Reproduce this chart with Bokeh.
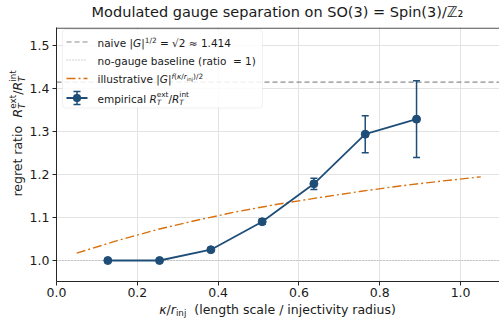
import math
from bokeh.plotting import figure
from bokeh.layouts import column, row
from bokeh.models import (ColumnDataSource, Whisker, TeeHead, Span, Label, BoxAnnotation,
                          Arrow, FixedTicker, PrintfTickFormatter, Range1d)
from bokeh.core.validation import silence
from bokeh.core.validation.warnings import MISSING_RENDERERS
from bokeh.embed import file_html
from bokeh.resources import INLINE

silence(MISSING_RENDERERS, True)

# ---------------- data ----------------
kappa = [0.127, 0.255, 0.382, 0.509, 0.637, 0.764, 0.891]
ratio = [1.000, 1.000, 1.025, 1.090, 1.178, 1.293, 1.328]
ratio_err = [0.000, 0.000, 0.003, 0.006, 0.013, 0.043, 0.089]

illus_kappa = [0.05, 0.15, 0.25, 0.35, 0.45, 0.55, 0.65, 0.75, 0.85, 0.95, 1.05]
illus_ratio = [1.017, 1.046, 1.072, 1.094, 1.114, 1.131, 1.146, 1.160, 1.173, 1.184, 1.194]

naive_level = 1.414
baseline_level = 1.0

x_ticks = [0.0, 0.2, 0.4, 0.6, 0.8, 1.0]
y_ticks = [1.0, 1.1, 1.2, 1.3, 1.4, 1.5]

title_text = "Modulated gauge separation on SO(3) = Spin(3)/\u2124\u2082"

# ---------------- styling ----------------
BLUE = "#1f4e79"
ORANGE = "#d9700f"
DASH_GRAY = "#8c8c8c"
DOT_GRAY = "#a6a6a6"
INK = "#1a1a1a"
SPINE = "#262626"
FONT = "DejaVu Sans"
BASELINE_FIX = 0.3   # em; compensates where the renderer puts the alphabetic baseline

# page layout (window pixels)
PAGE_W, PAGE_H = 499, 325
TITLE_H = 22
YLAB_W = 26
MAIN_H = 280
XLAB_H = PAGE_H - TITLE_H - MAIN_H
MAIN_W = PAGE_W - YLAB_W

# main frame in window pixels
FL, FT, FR, FB = 55, 27, 499, 281
X_PX_PER_UNIT = 405.0
Y_PX_PER_UNIT = 431.0
X0_PX = 55.0     # window x of kappa = 0
Y1_PX = 260.0    # window y of ratio = 1.0

x_start = (FL - X0_PX) / X_PX_PER_UNIT
x_end = (FR - X0_PX) / X_PX_PER_UNIT
y_start = 1.0 - (FB - Y1_PX) / Y_PX_PER_UNIT
y_end = 1.0 + (Y1_PX - FT) / Y_PX_PER_UNIT

p = figure(width=MAIN_W, height=MAIN_H, output_backend="svg", toolbar_location=None,
           x_range=Range1d(x_start, x_end), y_range=Range1d(y_start, y_end),
           min_border_left=FL - YLAB_W, min_border_right=YLAB_W + MAIN_W - FR,
           min_border_top=FT - TITLE_H, min_border_bottom=TITLE_H + MAIN_H - FB,
           background_fill_color="white", border_fill_color="white")
p.outline_line_color = None

# axes
p.xaxis.ticker = FixedTicker(ticks=x_ticks)
p.yaxis.ticker = FixedTicker(ticks=y_ticks)
p.xaxis.formatter = PrintfTickFormatter(format="%.1f")
p.yaxis.formatter = PrintfTickFormatter(format="%.1f")
p.xgrid.ticker = FixedTicker(ticks=x_ticks)
p.ygrid.ticker = FixedTicker(ticks=y_ticks)
p.grid.grid_line_color = "#e3e3e3"
p.grid.grid_line_width = 1
p.axis.minor_tick_line_color = None
p.axis.major_tick_in = 0
p.axis.major_tick_out = 4
p.axis.axis_line_color = SPINE
p.axis.major_tick_line_color = SPINE
p.axis.major_label_text_font = FONT
p.axis.major_label_text_font_size = "12.5px"
p.axis.major_label_text_color = INK
p.axis.major_label_standoff = 2
p.yaxis.major_label_standoff = 3

# top spine (kept just inside the frame)
p.add_layout(Span(location=y_end - 0.6 / Y_PX_PER_UNIT, dimension="width",
                  line_color=SPINE, line_width=1))

# reference levels
p.add_layout(Span(location=naive_level, dimension="width", line_color=DASH_GRAY,
                  line_width=1.2, line_dash="5 3", level="underlay"))
p.add_layout(Span(location=baseline_level, dimension="width", line_color=DOT_GRAY,
                  line_width=1.2, line_dash="1 2", level="underlay"))

# illustrative curve
p.line(illus_kappa, illus_ratio, line_color=ORANGE, line_width=1.4, line_dash="9 3 2 3")

# empirical series with error bars
src = ColumnDataSource(dict(
    kappa=kappa, ratio=ratio,
    upper=[r + e for r, e in zip(ratio, ratio_err)],
    lower=[r - e for r, e in zip(ratio, ratio_err)],
))
p.line("kappa", "ratio", source=src, line_color=BLUE, line_width=1.8)
p.add_layout(Whisker(source=src, base="kappa", upper="upper", lower="lower",
                     dimension="height", line_color=BLUE, line_width=1.5, level="glyph",
                     upper_head=TeeHead(size=7, line_color=BLUE, line_width=1.5),
                     lower_head=TeeHead(size=7, line_color=BLUE, line_width=1.5)))
p.scatter("kappa", "ratio", source=src, size=8, fill_color=BLUE, line_color=BLUE)

# ---------------- helper panels for title / axis labels (real SVG text) ----------------
def blank(w, h):
    f = figure(width=w, height=h, output_backend="svg", toolbar_location=None,
               x_range=Range1d(0, 1), y_range=Range1d(0, 1),
               x_axis_location=None, y_axis_location=None, min_border=0,
               background_fill_color="white", border_fill_color="white")
    f.outline_line_color = None
    f.grid.visible = False
    return f

title_fig = blank(PAGE_W, TITLE_H)
ylab_fig = blank(YLAB_W, MAIN_H)
xlab_fig = blank(PAGE_W, XLAB_H)

# each target: (figure, window x of frame left, window y of frame bottom)
T_MAIN = (p, FL, FB)
T_TITLE = (title_fig, 0, TITLE_H)
T_YLAB = (ylab_fig, 0, TITLE_H + MAIN_H)
T_XLAB = (xlab_fig, 0, PAGE_H)

ADV = {' ': 0.318, '(': 0.390, ')': 0.390, '.': 0.318, '/': 0.337, '-': 0.361,
       '=': 0.838, '\u2248': 0.838, '\u221a': 0.838, '|': 0.337,
       '0': 0.636, '1': 0.636, '2': 0.636, '3': 0.636, '4': 0.636,
       'a': 0.613, 'b': 0.635, 'c': 0.550, 'd': 0.635, 'e': 0.615, 'f': 0.352,
       'g': 0.635, 'h': 0.634, 'i': 0.278, 'j': 0.278, 'k': 0.579, 'l': 0.278,
       'm': 0.974, 'n': 0.634, 'o': 0.612, 'p': 0.635, 'r': 0.411, 's': 0.521,
       't': 0.392, 'u': 0.634, 'v': 0.592, 'x': 0.592, 'y': 0.592,
       'G': 0.775, 'R': 0.695, 'T': 0.611, '\u03ba': 0.594}

def tw(s, px):
    return sum(ADV.get(c, 0.6) for c in s) * px

def put(target, text, wx, wy, px, italic=False, vertical=False, color=INK, align="left"):
    """Place text with its alphabetic baseline at window (wx, wy)."""
    if not text:
        return
    fig, left, bottom = target
    fix = BASELINE_FIX * px
    if vertical:
        wx = wx - fix
    else:
        wy = wy - fix
    fig.add_layout(Label(x=wx - left, y=bottom - wy, x_units="screen", y_units="screen",
                         text=text, text_font=FONT, text_font_size=f"{px:.2f}px",
                         text_font_style="italic" if italic else "normal",
                         text_color=color, text_align=align, text_baseline="alphabetic",
                         angle=math.pi / 2 if vertical else 0.0))

def run_width(runs, px):
    total = 0.0
    for r in runs:
        if r[0] == "stack":
            total += max(tw(r[1][0], px * r[1][1]), tw(r[2][0], px * r[2][1]))
        else:
            total += tw(r[0], px * r[1])
    return total

def draw_runs(target, runs, wx, wy, px, vertical=False):
    pos = 0.0

    def one(t, sc, sh, it, at):
        lead = len(t) - len(t.lstrip(" "))
        core = t.strip(" ")
        off = at + tw(" " * lead, px * sc)
        raise_px = sh * px
        if vertical:
            put(target, core, wx - raise_px, wy - off, px * sc, it, vertical=True)
        else:
            put(target, core, wx + off, wy - raise_px, px * sc, it)

    for r in runs:
        if r[0] == "stack":
            w = 0.0
            for (t, sc, sh, it) in (r[1], r[2]):
                one(t, sc, sh, it, pos)
                w = max(w, tw(t, px * sc))
            pos += w
        else:
            t, sc, sh, it = r
            one(t, sc, sh, it, pos)
            pos += tw(t, px * sc)

SUP = 0.7
AX_CENTER_X = (FL + FR) / 2
AX_CENTER_Y = (FT + FB) / 2

# title
put(T_TITLE, title_text, AX_CENTER_X, 16, 14.5, align="center")

# x axis label
XL_PX = 12.5
xlabel_runs = [("\u03ba", 1, 0, True), ("/", 1, 0, False), ("r", 1, 0, True),
               ("inj", SUP, -0.22, False),
               ("  (length scale / injectivity radius)", 1, 0, False)]
draw_runs(T_XLAB, xlabel_runs, AX_CENTER_X - run_width(xlabel_runs, XL_PX) / 2, 312.5, XL_PX)

# y axis label (rotated, reads bottom to top)
ylabel_runs = [("regret ratio", 1, 0, False), ("  ", 1, 0, False), ("R", 1, 0, True),
               ("stack", ("T", SUP, -0.25, True), ("ext", SUP, 0.45, False)),
               ("/", 1, 0, False), ("R", 1, 0, True),
               ("stack", ("T", SUP, -0.25, True), ("int", SUP, 0.45, False))]
draw_runs(T_YLAB, ylabel_runs, 20.5, AX_CENTER_Y + run_width(ylabel_runs, XL_PX) / 2,
          XL_PX, vertical=True)

# ---------------- legend (inside the main frame) ----------------
def sx(wx):
    return wx - FL

def sy(wy):
    return FB - wy

LEG_PX = 10.5
p.add_layout(BoxAnnotation(left=sx(61), right=sx(261), top=sy(29), bottom=sy(107.5),
                           left_units="screen", right_units="screen",
                           top_units="screen", bottom_units="screen",
                           fill_color="white", fill_alpha=0.85, line_color="#cccccc",
                           line_width=1, border_radius=3, level="annotation"))

HX0, HX1, TX = 65, 86, 96
row_y = [41.5, 59.5, 78.0, 97.5]

def handle_line(y, color, width, dash):
    p.add_layout(Arrow(x_start=sx(HX0), y_start=sy(y), x_end=sx(HX1), y_end=sy(y),
                       start_units="screen", end_units="screen", end=None, start=None,
                       line_color=color, line_width=width, line_dash=dash))

handle_line(row_y[0], DASH_GRAY, 1.2, "5 3")
handle_line(row_y[1], DOT_GRAY, 1.2, "1 2")
handle_line(row_y[2], ORANGE, 1.4, "9 3 2 3")
handle_line(row_y[3], BLUE, 1.8, "solid")
HXC = (HX0 + HX1) / 2
p.add_layout(Arrow(x_start=sx(HXC), y_start=sy(row_y[3] + 6.5), x_end=sx(HXC), y_end=sy(row_y[3] - 6.5),
                   start_units="screen", end_units="screen",
                   start=TeeHead(size=7, line_color=BLUE, line_width=1.5),
                   end=TeeHead(size=7, line_color=BLUE, line_width=1.5),
                   line_color=BLUE, line_width=1.5))
p.add_layout(BoxAnnotation(left=sx(HXC - 4), right=sx(HXC + 4), top=sy(row_y[3] - 4), bottom=sy(row_y[3] + 4),
                           left_units="screen", right_units="screen",
                           top_units="screen", bottom_units="screen",
                           fill_color=BLUE, fill_alpha=1.0, line_color=BLUE,
                           border_radius=4, level="annotation"))

leg_rows = [
    [("naive |", 1, 0, False), ("G", 1, 0, True), ("|", 1, 0, False), ("1/2", SUP, 0.32, False),
     (" = \u221a2 \u2248 1.414", 1, 0, False)],
    [("no-gauge baseline (ratio", 1, 0, False), ("  = 1)", 1, 0, False)],
    [("illustrative |", 1, 0, False), ("G", 1, 0, True), ("|", 1, 0, False),
     ("f", SUP, 0.32, True), ("(", SUP, 0.32, False), ("\u03ba", SUP, 0.32, True),
     ("/", SUP, 0.32, False), ("r", SUP, 0.32, True), ("inj", 0.5, 0.2, False),
     (")/2", SUP, 0.32, False)],
    [("empirical ", 1, 0, False), ("R", 1, 0, True),
     ("stack", ("T", SUP, -0.25, True), ("ext", SUP, 0.45, False)),
     ("/", 1, 0, False), ("R", 1, 0, True),
     ("stack", ("T", SUP, -0.25, True), ("int", SUP, 0.45, False))],
]
for ry, runs in zip(row_y, leg_rows):
    draw_runs(T_MAIN, runs, TX, ry + 3.8, LEG_PX)

layout = column(title_fig, row(ylab_fig, p, spacing=0), xlab_fig, spacing=0)
open("out.html", "w").write(file_html(layout, INLINE))
